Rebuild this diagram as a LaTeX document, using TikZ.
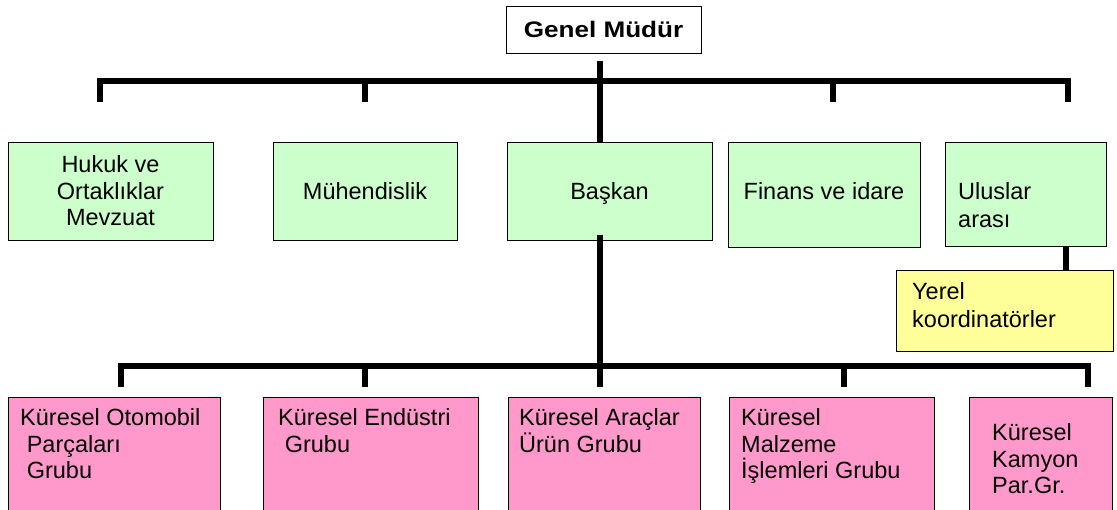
\documentclass[tikz,border=0pt]{standalone}
\usepackage{fontspec}
\setmainfont{Liberation Sans}
\usetikzlibrary{calc}

\definecolor{boxgreen}{HTML}{CCFFCC}
\definecolor{boxyellow}{HTML}{FFFF99}
\definecolor{boxpink}{HTML}{FF99CC}

\tikzset{
  unit box/.style={draw=black, line width=1.3pt, inner sep=0pt, anchor=north west},
  head/.style={unit box, fill=white},
  dept/.style={unit box, fill=boxgreen},
  local/.style={unit box, fill=boxyellow},
  group/.style={unit box, fill=boxpink},
  label text/.style={inner sep=0pt, font=\fontsize{23.5}{26.5}\selectfont},
  bus/.style={line width=5.5pt, line join=miter, line cap=butt},
}
% multi-line text whose reference point is the first baseline
\newcommand{\leftlines}[1]{\parbox[t]{8cm}{\raggedright #1}}
\newcommand{\midlines}[2]{\parbox[t]{#1}{\centering #2}}
\newcommand{\indentsp}{\hspace*{0.28em}}

\begin{document}
\begin{tikzpicture}[x=1pt,y=-1pt]
\useasboundingbox (0,0) rectangle (1117,510);
\clip (0,0) rectangle (1117,510);
\fill[white] (0,0) rectangle (1117,510);

% ---- boxes ----
\node[head,  minimum width=195pt, minimum height=47pt]  (gm)     at (506,6)   {};
\node[dept,  minimum width=205pt, minimum height=98pt]  (hukuk)  at (8,142)   {};
\node[dept,  minimum width=184pt, minimum height=98pt]  (muh)    at (273,142) {};
\node[dept,  minimum width=205pt, minimum height=98pt]  (baskan) at (507,142) {};
\node[dept,  minimum width=192pt, minimum height=105pt] (finans) at (728,142) {};
\node[dept,  minimum width=161pt, minimum height=104pt] (ulus)   at (945,142) {};
\node[local, minimum width=217pt, minimum height=81pt]  (yerel)  at (896,270) {};
\node[group, minimum width=212pt, minimum height=125pt] (oto)    at (8,397)   {};
\node[group, minimum width=215pt, minimum height=125pt] (endu)   at (263,397) {};
\node[group, minimum width=192pt, minimum height=125pt] (arac)   at (508,397) {};
\node[group, minimum width=205pt, minimum height=125pt] (malz)   at (729,397) {};
\node[group, minimum width=143pt, minimum height=125pt] (kamy)   at (969,397) {};

% ---- texts ----
\node[label text, anchor=base, font=\fontsize{22.5}{26}\selectfont\bfseries] (gm-t) at (603.5,38) {\scalebox{1.16}[1]{Genel Müdür}};
\node[label text, anchor=base] (hukuk-t) at (110.5,173) {\midlines{205pt}{Hukuk ve\\Ortaklıklar\\Mevzuat}};
\node[label text, anchor=base] (muh-t) at (365,200) {Mühendislik};
\node[label text, anchor=base] (baskan-t) at (609.5,200) {Başkan};
\node[label text, anchor=base] (finans-t) at (824,200) {Finans ve idare};
\node[label text, anchor=base west] (ulus-t) at (958,200) {\leftlines{Uluslar\\[1pt]arası}};
\node[label text, anchor=base west] (yerel-t) at (912,300) {\leftlines{Yerel\\[1pt]koordinatörler}};
\node[label text, anchor=base west] (oto-t) at (20,426) {\leftlines{Küresel Otomobil\\\indentsp Parçaları\\\indentsp Grubu}};
\node[label text, anchor=base west] (endu-t) at (278,426) {\leftlines{Küresel Endüstri\\\indentsp Grubu}};
\node[label text, anchor=base west] (arac-t) at (519,426) {\leftlines{Küresel Araçlar\\Ürün Grubu}};
\node[label text, anchor=base west] (malz-t) at (741,426) {\leftlines{Küresel\\Malzeme\\İşlemleri Grubu}};
\node[label text, anchor=base west] (kamy-t) at (992,441) {\leftlines{Küresel\\Kamyon\\Par.Gr.}};

% ---- connectors ----
\coordinate (trunk-top) at (600,61);
\coordinate (busA) at (600,81);
\coordinate (drop1) at (100,102);
\coordinate (drop2) at (365,102);
\coordinate (drop4) at (833,102);
\coordinate (drop5) at (1068,102);
\draw[bus] (trunk-top) -- (trunk-top |- baskan.north);
\draw[bus] (drop1) -- (drop1 |- busA) -- (drop5 |- busA) -- (drop5);
\draw[bus] (drop2) -- (drop2 |- busA);
\draw[bus] (drop4) -- (drop4 |- busA);

\coordinate (trunk-mid) at (600,235);
\coordinate (busB) at (600,366);
\coordinate (gdrop1) at (121,387);
\coordinate (gdrop2) at (365,387);
\coordinate (gdrop3) at (600,387);
\coordinate (gdrop4) at (844,387);
\coordinate (gdrop5) at (1088,387);
\draw[bus] (trunk-mid) -- (gdrop3);
\draw[bus] (gdrop1) -- (gdrop1 |- busB) -- (gdrop5 |- busB) -- (gdrop5);
\draw[bus] (gdrop2) -- (gdrop2 |- busB);
\draw[bus] (gdrop4) -- (gdrop4 |- busB);

\coordinate (local-x) at (1066,0);
\draw[bus] (local-x |- ulus.south) -- (local-x |- yerel.north);
\end{tikzpicture}
\end{document}
